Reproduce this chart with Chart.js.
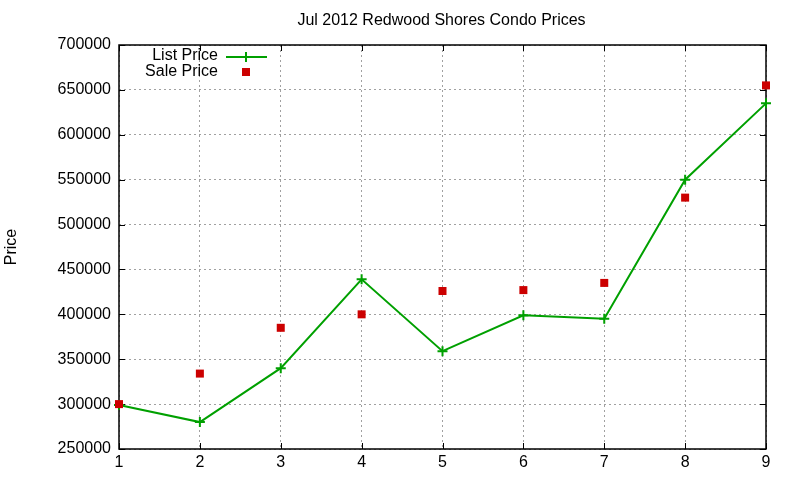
<!DOCTYPE html>
<html><head><meta charset="utf-8">
<script src="https://cdn.jsdelivr.net/npm/chart.js@4.4.0/dist/chart.umd.min.js"></script>
<style>html,body{margin:0;padding:0;background:#fff}#wrap{width:800px;height:480px}</style>
</head><body><div id="wrap"><canvas id="c" width="800" height="480"></canvas></div>
<script>
const categories = [1, 2, 3, 4, 5, 6, 7, 8, 9];
const listPrice = [299000, 280000, 340000, 439000, 359000, 399000, 395000, 550000, 635000];
const salePrice = [300000, 334000, 385000, 400000, 426000, 427000, 435000, 530000, 655000];
const yTicks = [250000, 300000, 350000, 400000, 450000, 500000, 550000, 600000, 650000, 700000];
const titleText = 'Jul 2012 Redwood Shores Condo Prices';
const yLabel = 'Price';
const FONT = '"Liberation Sans", Arial, sans-serif';

const frame = {
  id: 'frame',
  beforeDatasetsDraw(chart) {
    const {ctx, chartArea: a, scales: {x, y}} = chart;
    ctx.save();
    ctx.setLineDash([]);
    ctx.strokeStyle = '#000'; ctx.lineWidth = 1;
    ctx.beginPath();
    yTicks.forEach(v => {
      const py = Math.round(y.getPixelForValue(v)) + 0.5;
      ctx.moveTo(a.left, py); ctx.lineTo(a.left + 6, py);
      ctx.moveTo(a.right, py); ctx.lineTo(a.right - 6, py);
    });
    categories.forEach(v => {
      const px = Math.round(x.getPixelForValue(v)) + 0.5;
      ctx.moveTo(px, a.bottom); ctx.lineTo(px, a.bottom - 6);
      ctx.moveTo(px, a.top); ctx.lineTo(px, a.top + 6);
    });
    ctx.stroke();
    ctx.lineWidth = 1.5;
    ctx.strokeRect(a.left, a.top, a.right - a.left, a.bottom - a.top);
    ctx.restore();
  },
  afterDraw(chart) {
    const {ctx, chartArea: a} = chart;
    ctx.save();
    // title
    ctx.fillStyle = '#000';
    ctx.font = '16px ' + FONT;
    ctx.textAlign = 'center'; ctx.textBaseline = 'middle';
    ctx.fillText(titleText, (a.left + a.right) / 2 - 1, 21);
    // y label
    ctx.save();
    ctx.translate(12, (a.top + a.bottom) / 2);
    ctx.rotate(-Math.PI / 2);
    ctx.font = '16px ' + FONT;
    ctx.fillText(yLabel, 0, 0);
    ctx.restore();
    // legend
    const ds = chart.data.datasets;
    ctx.font = '16px ' + FONT;
    ctx.textAlign = 'right';
    const rows = [56, 72];
    ds.forEach((d, i) => {
      const ty = rows[i];
      ctx.fillStyle = '#000';
      ctx.fillText(d.label, 218, ty);
      if (i === 0) {
        ctx.strokeStyle = d.borderColor; ctx.lineWidth = 2;
        ctx.beginPath(); ctx.moveTo(226, 57); ctx.lineTo(267, 57);
        ctx.moveTo(246, 52); ctx.lineTo(246, 62); ctx.stroke();
      } else {
        ctx.fillStyle = d.backgroundColor;
        ctx.fillRect(242, 68, 8, 8);
      }
    });
    ctx.restore();
  }
};

new Chart(document.getElementById('c'), {
  type: 'line',
  data: {
    datasets: [
      {
        label: 'List Price',
        data: categories.map((c, i) => ({x: c, y: listPrice[i]})),
        borderColor: '#00a000', backgroundColor: '#00a000',
        borderWidth: 2, pointStyle: 'cross', pointRadius: 5, pointBorderWidth: 2,
        pointHoverRadius: 5, tension: 0, order: 1, clip: false
      },
      {
        label: 'Sale Price',
        data: categories.map((c, i) => ({x: c, y: salePrice[i]})),
        showLine: false,
        borderColor: '#cc0000', backgroundColor: '#cc0000',
        pointStyle: 'rect', pointRadius: 5.66, pointBorderWidth: 0,
        pointHoverRadius: 5.66, order: 0, clip: false
      }
    ]
  },
  plugins: [frame],
  options: {
    responsive: false, animation: false,
    layout: {padding: {top: 45, right: 34, left: 0, bottom: 0}},
    plugins: {legend: {display: false}, title: {display: false}, tooltip: {enabled: false}},
    scales: {
      x: {
        type: 'linear', min: 1, max: 9,
        afterFit(s) { s.height = 31; },
        afterBuildTicks(s) { s.ticks = categories.map(v => ({value: v})); },
        border: {display: false, dash: [2, 3]},
        grid: {color: '#a0a0a0', lineWidth: 1, drawTicks: false},
        ticks: {color: '#000', font: {family: FONT, size: 16}, padding: 4, maxRotation: 0}
      },
      y: {
        min: 250000, max: 700000,
        afterFit(s) { s.width = 119; },
        afterBuildTicks(s) { s.ticks = yTicks.map(v => ({value: v})); },
        border: {display: false, dash: [2, 3]},
        grid: {color: '#a0a0a0', lineWidth: 1, drawTicks: false},
        ticks: {color: '#000', font: {family: FONT, size: 16}, padding: 8, callback: v => String(v)}
      }
    }
  }
});
</script></body></html>
